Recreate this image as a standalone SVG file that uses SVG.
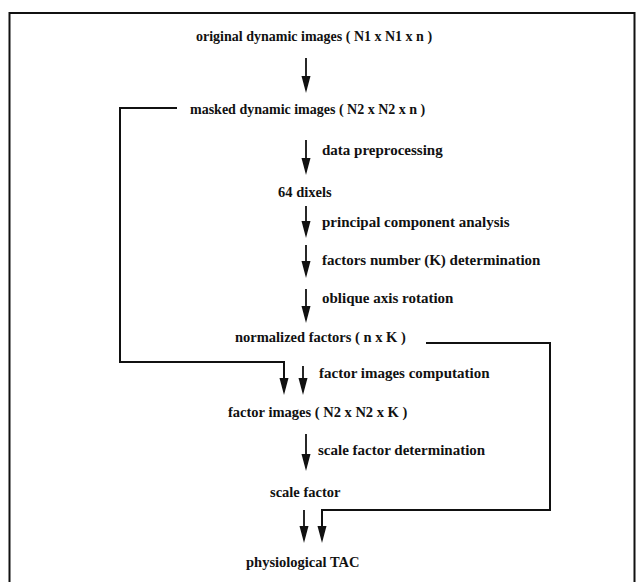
<svg xmlns="http://www.w3.org/2000/svg" width="636" height="582" viewBox="0 0 636 582">
<defs>
<style>
text{font-family:"Liberation Serif","Times New Roman",serif;font-weight:bold;font-size:14.5px;fill:#111}
.top{font-size:14px}
.lb{font-size:15px}
.ln{fill:none;stroke:#111;stroke-width:2}
.ar{fill:none;stroke:#111;stroke-width:1.8}
.hd{fill:#111}
</style>
</defs>
<rect width="636" height="582" fill="#fff"/>
<path class="ln" d="M9.5,590 V13 H634.5 V590"/>

<g id="n-original"><text class="top" x="196" y="41">original dynamic images ( N1 x N1 x n )</text></g>
<g id="n-masked"><text class="top" x="190" y="114">masked dynamic images ( N2 x N2 x n )</text></g>
<g id="n-dixels"><text x="278" y="197">64 dixels</text></g>
<g id="n-normalized"><text x="235" y="342">normalized factors ( n x K )</text></g>
<g id="n-factorimages"><text x="228" y="417">factor images ( N2 x N2 x K )</text></g>
<g id="n-scale"><text x="270" y="497">scale factor</text></g>
<g id="n-tac"><text x="246" y="567">physiological TAC</text></g>

<g id="connectors">
<path class="ar" d="M306,58 V78"/><path class="hd" d="M301.5,76 H310.5 L306,93 Z"/>
<path class="ar" d="M306,140 V160"/><path class="hd" d="M301.5,158 H310.5 L306,175 Z"/>
<path class="ar" d="M306,206 V223"/><path class="hd" d="M301.5,221 H310.5 L306,238 Z"/>
<path class="ar" d="M306,245 V263"/><path class="hd" d="M301.5,261 H310.5 L306,278 Z"/>
<path class="ar" d="M306,289 V308"/><path class="hd" d="M301.5,306 H310.5 L306,323 Z"/>
<path class="ln" d="M177,108 H120 V362 H284 V380"/><path class="hd" d="M279.5,378 H288.5 L284,395 Z"/>
<path class="ar" d="M303,366 V380"/><path class="hd" d="M298.5,378 H307.5 L303,395 Z"/>
<path class="ar" d="M306,434 V456"/><path class="hd" d="M301.5,454 H310.5 L306,471 Z"/>
<path class="ar" d="M304,510 V528"/><path class="hd" d="M299.5,526 H308.5 L304,543 Z"/>
<path class="ln" d="M426,343 H550 V510 H322 V528"/><path class="hd" d="M317.5,526 H326.5 L322,543 Z"/>
</g>

<g id="labels">
<text class="lb" x="322" y="155">data preprocessing</text>
<text class="lb" x="322" y="227">principal component analysis</text>
<text class="lb" x="322" y="265">factors number (K) determination</text>
<text class="lb" x="322" y="303">oblique axis rotation</text>
<text class="lb" x="319" y="378">factor images computation</text>
<text class="lb" x="318" y="455">scale factor determination</text>
</g>
</svg>
